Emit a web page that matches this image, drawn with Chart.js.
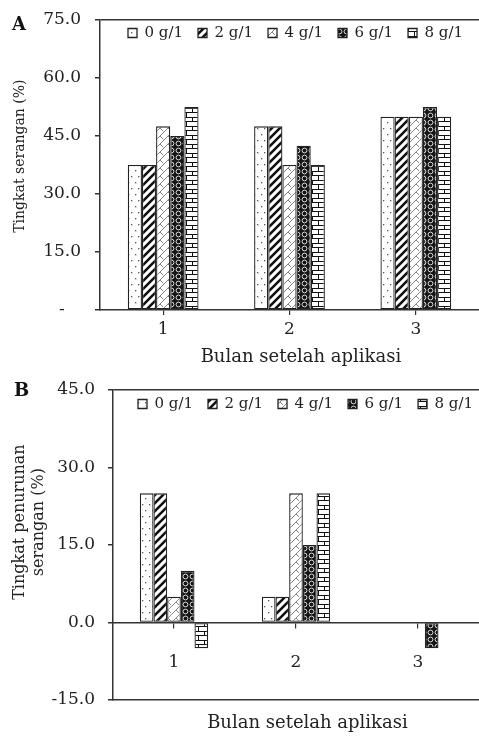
<!DOCTYPE html>
<html>
<head>
<meta charset="utf-8">
<script src="https://cdn.jsdelivr.net/npm/chart.js@4.4.1/dist/chart.umd.min.js"></script>
<style>
  html, body { margin: 0; padding: 0; background: #fff; }
  body { width: 479px; height: 738px; position: relative; overflow: hidden; font-family: 'DejaVu Serif', serif; }
  .panel { position: absolute; left: 0; width: 479px; }
  #wrapA { top: 0; height: 372px; }
  #wrapB { top: 370px; height: 368px; }
  .tag { position: absolute; font-weight: bold; font-size: 18px; color: #111; line-height: 1; }
</style>
</head>
<body>
<div class="panel" id="wrapA"><canvas id="chartA" width="479" height="372"></canvas></div>
<div class="panel" id="wrapB"><canvas id="chartB" width="479" height="368"></canvas></div>
<div class="tag" style="left:12px;top:15px">A</div>
<div class="tag" style="left:14px;top:381px">B</div>
<script>
/* two-panel bar chart: attack rate (A) and attack reduction (B) */

// ── DATA ──────────────────────────────────────────────────────────────────────
const months      = ['1', '2', '3'];
const doseLabels  = ['0 g/1', '2 g/1', '4 g/1', '6 g/1', '8 g/1'];

// Panel A — Tingkat serangan (%)
const attack0 = [37.5, 47.5, 50.0];
const attack2 = [37.5, 47.5, 50.0];
const attack4 = [47.5, 37.5, 50.0];
const attack6 = [45.0, 42.5, 52.5];
const attack8 = [52.5, 37.5, 50.0];

// Panel B — Tingkat penurunan serangan (%)
const drop0 = [25, 5, 0];
const drop2 = [25, 5, 0];
const drop4 = [5, 25, 0];
const drop6 = [10, 15, -5];
const drop8 = [-5, 25, 0];

const axisA = { min: 0,   max: 75, step: 15 };
const axisB = { min: -15, max: 45, step: 15 };

// ── STYLE ─────────────────────────────────────────────────────────────────────
const FONT = "'DejaVu Serif', serif";
const INK  = '#222';
Chart.defaults.font.family = FONT;
Chart.defaults.color = INK;

// pattern tiles, one per dose
function tile(ctx, w, h, paint) {
  const c = document.createElement('canvas');
  c.width = w; c.height = h;
  const g = c.getContext('2d');
  g.fillStyle = '#fff';
  g.fillRect(0, 0, w, h);
  paint(g, w, h);
  return ctx.createPattern(c, 'repeat');
}

function patternsFor(canvas) {
  const ctx = canvas.getContext('2d');
  return [
    // dotted
    tile(ctx, 7, 12, g => {
      g.fillStyle = '#555';
      g.fillRect(2, 2, 1.3, 1.3);
      g.fillRect(5, 8, 1.3, 1.3);
    }),
    // wide dark diagonal
    tile(ctx, 8, 8, g => {
      g.strokeStyle = '#111';
      g.lineWidth = 2.6;
      g.beginPath();
      g.moveTo(-1, 9); g.lineTo(9, -1);
      g.moveTo(-1, 1); g.lineTo(1, -1);
      g.moveTo(7, 9);  g.lineTo(9, 7);
      g.stroke();
    }),
    // light zigzag
    tile(ctx, 8, 8, g => {
      g.strokeStyle = '#666';
      g.lineWidth = 0.8;
      g.beginPath();
      g.moveTo(0, 8); g.lineTo(8, 0);
      g.moveTo(0, 0); g.lineTo(3, 3);
      g.stroke();
    }),
    // dark spheres
    tile(ctx, 7, 7, g => {
      g.fillStyle = '#151515';
      g.fillRect(0, 0, 7, 7);
      g.strokeStyle = '#eee';
      g.lineWidth = 0.9;
      g.beginPath();
      g.arc(3.5, 3.5, 2.4, 0, Math.PI * 2);
      g.stroke();
    }),
    // brick
    tile(ctx, 12, 9, g => {
      g.strokeStyle = '#111';
      g.lineWidth = 1;
      g.beginPath();
      g.moveTo(0, 0.5);  g.lineTo(12, 0.5);
      g.moveTo(0, 4.5);  g.lineTo(12, 4.5);
      g.moveTo(0.5, 0);  g.lineTo(0.5, 4.5);
      g.moveTo(6.5, 4.5); g.lineTo(6.5, 9);
      g.stroke();
    })
  ];
}

function buildDatasets(canvas, series) {
  const pats = patternsFor(canvas);
  return series.map((data, i) => ({
    label:              doseLabels[i],
    data,
    backgroundColor:    pats[i],
    borderColor:        INK,
    borderWidth:        1.3,
    borderSkipped:      false,
    categoryPercentage: 0.56,
    barPercentage:      1.0
  }));
}

// moves the legend row inside the plot, just under the top border
const legendInPlot = {
  id: 'legendInPlot',
  beforeDraw(chart, args, opts) {
    const lg = chart.legend;
    if (!lg) return;
    const pad  = lg.options.labels.padding;
    const size = lg.options.labels.font.size;
    lg.left   = opts.x - pad;
    lg.right  = chart.width + 200;
    lg.top    = chart.chartArea.top + opts.cy - pad - size / 2;
    lg.bottom = lg.top + pad * 2 + size * 2;
    lg.width  = lg.right - lg.left;
    lg.height = lg.bottom - lg.top;
  }
};

const legendOpts = {
  position: 'top',
  align:    'start',
  maxHeight: 1,
  labels: {
    boxWidth:  9,
    boxHeight: 9,
    padding:   15,
    color:     INK,
    font:      { family: FONT, size: 15 }
  }
};

// keep the value axis from pushing the plot down with its tick padding
const tightY = width => s => {
  s.width = width;
  s.paddingTop = 8;
  s.paddingBottom = 8;
};

// ── PANEL A ───────────────────────────────────────────────────────────────────
const canvasA = document.getElementById('chartA');
new Chart(canvasA, {
  type: 'bar',
  data: {
    labels:   months,
    datasets: buildDatasets(canvasA, [attack0, attack2, attack4, attack6, attack8])
  },
  options: {
    responsive: false,
    animation:  false,
    layout:     { padding: { top: 19, left: 0, right: 0, bottom: 0 } },
    plugins: {
      legend:       legendOpts,
      tooltip:      { enabled: false },
      legendInPlot: { x: 128, cy: 13 }
    },
    scales: {
      x: {
        grid:   { drawOnChartArea: false, offset: false, tickLength: 5, tickColor: '#333', lineWidth: 1.2 },
        border: { color: '#333', width: 1.5 },
        ticks:  { font: { size: 17 }, color: INK, padding: 4 },
        title:  { display: true, text: '    Bulan setelah aplikasi', font: { size: 18 }, color: INK, padding: { top: 0, bottom: 4 } },
        afterFit: s => { s.height = 62; }
      },
      y: {
        min: axisA.min,
        max: axisA.max,
        ticks: {
          stepSize: axisA.step,
          callback: v => v === 0 ? '-   ' : v.toFixed(1),
          font:     { size: 17 },
          color:    INK,
          padding:  14
        },
        grid: {
          color:     c => c.tick && c.tick.value === axisA.max ? '#333' : 'rgba(0,0,0,0)',
          tickColor: '#333',
          tickLength: 5,
          lineWidth: 1.5
        },
        border: { color: '#333', width: 1.5 },
        title:  { display: true, text: '    Tingkat serangan (%)', font: { size: 14 }, color: INK, padding: { top: 12, bottom: 0 } },
        afterFit: tightY(100)
      }
    }
  },
  plugins: [legendInPlot]
});

// ── PANEL B ───────────────────────────────────────────────────────────────────
const canvasB = document.getElementById('chartB');
new Chart(canvasB, {
  type: 'bar',
  data: {
    labels:   months,
    datasets: buildDatasets(canvasB, [drop0, drop2, drop4, drop6, drop8])
  },
  options: {
    responsive: false,
    animation:  false,
    layout:     { padding: { top: 19, left: 0, right: 0, bottom: 0 } },
    plugins: {
      legend:       legendOpts,
      tooltip:      { enabled: false },
      legendInPlot: { x: 138, cy: 14 }
    },
    scales: {
      x: {
        position: { y: 0 },
        grid:   { drawOnChartArea: false, offset: false, tickLength: 5, tickColor: '#333', lineWidth: 1.2 },
        border: { color: '#333', width: 1.5 },
        ticks:  { font: { size: 17 }, color: INK, padding: 25 },
        afterFit: s => { s.height = 0; }
      },
      x2: {
        type:     'category',
        labels:   months,
        position: 'bottom',
        ticks:    { display: false },
        grid:     { display: false },
        border:   { color: '#333', width: 1.5 },
        title:    { display: true, text: '    Bulan setelah aplikasi', font: { size: 18 }, color: INK, padding: { top: 0, bottom: 4 } },
        afterFit: s => { s.height = 38; }
      },
      y: {
        min: axisB.min,
        max: axisB.max,
        ticks: {
          stepSize: axisB.step,
          callback: v => v.toFixed(1),
          font:     { size: 17 },
          color:    INK,
          padding:  13
        },
        grid: {
          color:     c => c.tick && c.tick.value === axisB.max ? '#333' : 'rgba(0,0,0,0)',
          tickColor: '#333',
          tickLength: 5,
          lineWidth: 1.5
        },
        border: { color: '#333', width: 1.5 },
        title:  {
          display: true,
          text:    ['         Tingkat penurunan', '         serangan (%)'],
          font:    { size: 16 },
          color:   INK,
          padding: { top: 10, bottom: 0 }
        },
        afterFit: tightY(113)
      }
    }
  },
  plugins: [legendInPlot]
});
</script>
</body>
</html>
